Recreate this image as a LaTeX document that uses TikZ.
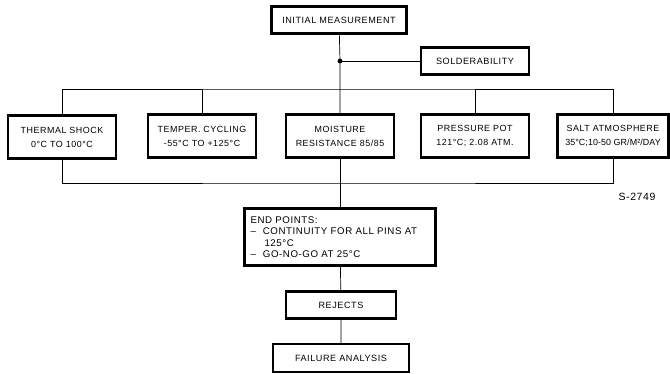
\documentclass[tikz,border=0pt]{standalone}
\usepackage{fontspec}
\setmainfont{Liberation Sans}[LetterSpace=6]
\usetikzlibrary{positioning}

\tikzset{
  box/.style={draw, line width=2.2pt, minimum height=27pt, align=center, inner sep=2pt, font=\fontsize{9.1}{10}\selectfont},
  testbox/.style={box, minimum width=108pt, minimum height=43pt, font=\fontsize{8.9}{14}\selectfont},
  link/.style={line width=0.7pt}
}

\begin{document}
\begin{tikzpicture}[x=1pt, y=-1pt]
  \useasboundingbox (0,0) rectangle (670,374);

  % Start of the test sequence
  \node[box, minimum width=135pt] (init) at (339,20) {INITIAL MEASUREMENT};
  \node[box, minimum width=108pt] (solder) at (475,61) {SOLDERABILITY};
  \fill (340,61) circle (2.4pt) coordinate (dot);

  % Environmental tests
  \node[testbox] (shock)    at (62,137)  {THERMAL SHOCK\\0°C TO 100°C};
  \node[testbox] (cycling)  at (202,136) {TEMPER. CYCLING\\-55°C TO +125°C};
  \node[testbox] (moisture) at (340,136) {MOISTURE\\RESISTANCE 85/85};
  \node[testbox] (pot)      at (475,136) {PRESSURE POT\\121°C; 2.08 ATM.};
  \node[testbox, minimum width=111pt, inner sep=0pt] (salt) at (613,136)
    {SALT ATMOSPHERE\\{\addfontfeature{LetterSpace=1}35°C;10-50 GR/M²/DAY}};

  \coordinate (top) at (340,89);
  \coordinate (bottom) at (340,183);

  % Bus lines above and below the tests
  \draw[link] (init) -- (dot) -- (moisture);
  \draw[link] (dot) -- (solder);
  \draw[link] (shock.north) |- (top) -| (salt.north);
  \foreach \n in {cycling,pot}
    \draw[link] (\n.north) -- (\n.north |- top);
  \draw[link] (shock.south) |- (bottom) -| (salt.south);

  % Checks after the tests
  \node[box, minimum height=57pt, text width=179pt, inner xsep=6pt, align=left, font=\fontsize{9.7}{11.5}\selectfont] (endpts) at (340,237)
    {END POINTS:\\
     --\hspace{7pt}CONTINUITY FOR ALL PINS AT\\
     \hspace{14pt}125°C\\
     --\hspace{7pt}GO-NO-GO AT 25°C};
  \node[box, minimum width=110pt] (rejects) at (341,305) {REJECTS};
  \node[box, minimum width=136pt, minimum height=28pt] (failure) at (341,358) {FAILURE ANALYSIS};

  \draw[link] (moisture) -- (endpts);
  \draw[link] (endpts) -- (rejects) -- (failure);

  \node[font=\fontsize{10.5}{12}\selectfont] (code) at (637,197) {S-2749};
\end{tikzpicture}
\end{document}
